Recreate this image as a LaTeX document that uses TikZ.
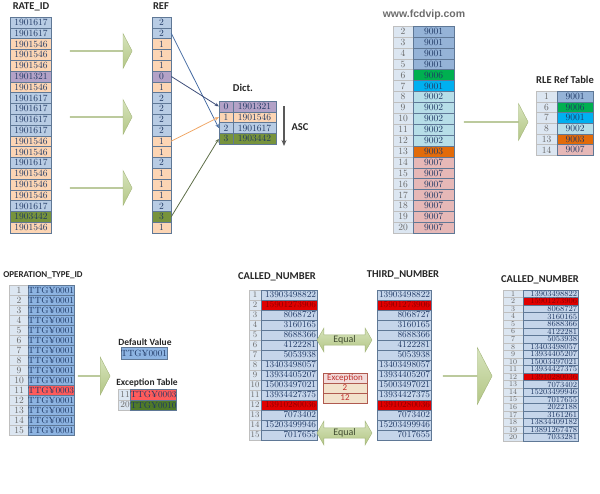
\documentclass[tikz,border=0pt]{standalone}
\usepackage{fontspec}
\newfontfamily\titlefont{Carlito}
\newfontfamily\webfont{Liberation Sans}
\usetikzlibrary{arrows.meta,positioning,shapes.arrows}

\definecolor{cblue}{HTML}{B8CCE4}
\definecolor{corange}{HTML}{FCD5B4}
\definecolor{cpurple}{HTML}{B3A2C7}
\definecolor{cgreen}{HTML}{77933C}
\definecolor{cellline}{HTML}{5F7896}
\definecolor{celltext}{HTML}{1F3864}
\definecolor{idxgray}{HTML}{DCE6F1}
\definecolor{r9001}{HTML}{95B3D7}
\definecolor{r9006}{HTML}{00B050}
\definecolor{r9001b}{HTML}{00B0F0}
\definecolor{r9002}{HTML}{B7DEE8}
\definecolor{r9003}{HTML}{E26B0A}
\definecolor{r9007}{HTML}{E6B8B7}
\definecolor{opblue}{HTML}{8DB4E2}
\definecolor{opred}{HTML}{FF5B5B}
\definecolor{opgreen}{HTML}{4F7A28}
\definecolor{cnum}{HTML}{C5D5EA}
\definecolor{cred}{HTML}{E00000}
\definecolor{exctitle}{HTML}{F2DCDB}
\definecolor{excval}{HTML}{F2E2CC}
\definecolor{excline}{HTML}{B05A50}
\definecolor{exctext}{HTML}{C0302D}
\definecolor{arrowlight}{HTML}{D7E4BD}
\definecolor{arrowdark}{HTML}{B3C685}
\definecolor{arrowline}{HTML}{A3B57A}
\definecolor{lnblue}{HTML}{4A6FA5}
\definecolor{lndark}{HTML}{3E4E7A}
\definecolor{lnorange}{HTML}{F0A868}
\definecolor{lnolive}{HTML}{5E6E48}
\definecolor{titletext}{HTML}{262626}

\tikzset{
  cell/.style={draw=cellline, inner sep=0pt, minimum height=10.8pt, text=celltext,
    font=\fontsize{9.5}{10}\selectfont},
  idx/.style={cell, fill=idxgray, draw=gray!50, text=gray!80!black},
  numcell/.style={cell, fill=cnum, minimum height=10pt, align=right, font=\fontsize{9}{10}\selectfont},
  redcell/.style={numcell, fill=cred, text=red!55!black},
  title/.style={font=\titlefont\bfseries\fontsize{10.5}{11}\selectfont, text=titletext},
  bigarrow/.style={single arrow, draw=arrowline, top color=arrowlight, bottom color=arrowdark,
    inner sep=0pt, single arrow tip angle=125},
  eqarrow/.style={double arrow, draw=arrowline, top color=arrowlight, bottom color=arrowdark,
    inner sep=0pt, double arrow tip angle=120, minimum height=55pt, minimum width=24pt,
    double arrow head extend=6pt, font=\titlefont\fontsize{10}{11}\selectfont, text=lnolive!70!black},
  exc/.style={draw=excline, fill=excval, text=exctext, inner sep=0pt, minimum width=44pt,
    minimum height=10pt, font=\titlefont\fontsize{9}{10}\selectfont}
}

\begin{document}
\begin{tikzpicture}[x=1pt,y=-1pt,>={Stealth[length=4pt,width=3.5pt]},font=\small]
\useasboundingbox (0,0) rectangle (600,493);

\node[title] (ratet) at (31,7) {RATE\_ID};
\node[title] (reft) at (161,6) {REF};
\foreach \v/\r/\c [count=\i] in {1901617/2/cblue,1901617/2/cblue,1901546/1/corange,1901546/1/corange,
    1901546/1/corange,1901321/0/cpurple,1901546/1/corange,1901617/2/cblue,1901617/2/cblue,1901617/2/cblue,
    1901617/2/cblue,1901546/1/corange,1901546/1/corange,1901617/2/cblue,1901546/1/corange,1901546/1/corange,
    1901546/1/corange,1901617/2/cblue,1903442/3/cgreen,1901546/1/corange}{
  \node[cell, fill=\c, minimum width=41pt] (rate\i) at (31,{17+(\i-0.5)*10.8}) {\v};
  \node[cell, fill=\c, minimum width=19pt] (ref\i) at (161.5,{17+(\i-0.5)*10.8}) {\r};
}
\foreach \y [count=\k] in {51,117,188}
  \node[bigarrow, minimum height=62pt, minimum width=35pt, single arrow head extend=8pt] (big\k) at (101,\y) {};

\node[title] (dictt) at (243,88) {Dict.};
\foreach \v/\c [count=\j from 0] in {1901321/cpurple,1901546/corange,1901617/cblue,1903442/cgreen}{
  \node[cell, fill=\c, minimum width=14pt] (di\j) at (226,{101+(\j+0.5)*10.8}) {\j};
  \node[cell, fill=\c, minimum width=43pt] (d\j) at (254.5,{101+(\j+0.5)*10.8}) {\v};
}
\draw[->, lnblue, thick] (ref2.east) -- (di2.west);
\draw[->, lndark, thick] (ref6.east) -- (di0.west);
\draw[->, lnorange, thick] (ref12.east) -- (di1.west);
\draw[->, lnolive, thick] (ref19.east) -- (di3.west);

\coordinate (asctop) at (284,106);
\coordinate (ascbot) at (284,146);
\draw[-{Stealth[length=6pt,width=5pt]}, line width=1.3pt, gray!70!black] (asctop) -- (ascbot);
\node[title] (asc) at (300,127) {ASC};

\node[font=\webfont\bfseries\fontsize{10.5}{12}\selectfont, text=gray!85!black] (web) at (424,15) {www.fcdvip.com};
\foreach \v/\c [count=\k from 2] in {9001/r9001,9001/r9001,9001/r9001,9001/r9001,9006/r9006,9001/r9001b,
    9002/r9002,9002/r9002,9002/r9002,9002/r9002,9002/r9002,9003/r9003,
    9007/r9007,9007/r9007,9007/r9007,9007/r9007,9007/r9007,9007/r9007,9007/r9007}{
  \node[idx, minimum width=20pt, minimum height=10.9pt] (li\k) at (403,{26+(\k-1.5)*10.9}) {\k};
  \node[cell, fill=\c, minimum width=41pt, minimum height=10.9pt] (lv\k) at (433.5,{26+(\k-1.5)*10.9}) {\v};
}
\node[bigarrow, minimum height=64pt, minimum width=37pt, single arrow head extend=9pt] (big4) at (496,122) {};
\node[title] (rlet) at (565,80) {RLE Ref Table};
\foreach \n/\v/\c [count=\m] in {1/9001/r9001,6/9006/r9006,7/9001/r9001b,8/9002/r9002,13/9003/r9003,14/9007/r9007}{
  \node[idx, minimum width=21pt, minimum height=10.7pt] (ti\m) at (546.5,{91+(\m-0.5)*10.7}) {\n};
  \node[cell, fill=\c, minimum width=36pt, minimum height=10.7pt] (tv\m) at (575,{91+(\m-0.5)*10.7}) {\v};
}

\node[title, font=\titlefont\bfseries\fontsize{9}{10}\selectfont] (opt) at (43,275) {OPERATION\_TYPE\_ID};
\foreach \v/\c [count=\i] in {TTG¥0001/opblue,TTG¥0001/opblue,TTG¥0001/opblue,TTG¥0001/opblue,TTG¥0001/opblue,
    TTG¥0001/opblue,TTG¥0001/opblue,TTG¥0001/opblue,TTG¥0001/opblue,TTG¥0001/opblue,TTG¥0003/opred,
    TTG¥0001/opblue,TTG¥0001/opblue,TTG¥0001/opblue,TTG¥0001/opblue}{
  \node[idx, minimum width=20pt, minimum height=10pt] (oi\i) at (19,{285+(\i-0.5)*10}) {\i};
  \node[cell, fill=\c, minimum width=44pt, minimum height=10pt, font=\fontsize{9}{10}\selectfont] (ov\i) at (51,{285+(\i-0.5)*10}) {\v};
}
\node[bigarrow, minimum height=32pt, minimum width=38pt, single arrow head extend=9.5pt] (big5) at (94,376) {};
\node[title, font=\titlefont\bfseries\fontsize{9.5}{10}\selectfont] (deft) at (145,342) {Default Value};
\node[cell, fill=opblue, minimum width=46pt, minimum height=12pt, font=\fontsize{9}{10}\selectfont] (defv) at (144,353) {TTG¥0001};
\node[title, font=\titlefont\bfseries\fontsize{9.5}{10}\selectfont] (exct) at (147,383) {Exception Table};
\node[idx, minimum width=14pt, minimum height=10.5pt, font=\fontsize{9}{10}\selectfont] (ei1) at (125,394.5) {11};
\node[cell, fill=opred, minimum width=43pt, minimum height=10.5pt, font=\fontsize{9}{10}\selectfont] (ev1) at (153.5,394.5) {TTG¥0003};
\node[idx, minimum width=14pt, minimum height=10.5pt, font=\fontsize{9}{10}\selectfont] (ei2) at (125,405) {20};
\node[cell, fill=opgreen, minimum width=43pt, minimum height=10.5pt, font=\fontsize{9}{10}\selectfont] (ev2) at (153.5,405) {TTG¥0010};

\node[title] (calt) at (277,277) {CALLED\_NUMBER};
\node[title] (thirdt) at (403,275) {THIRD\_NUMBER};
\foreach \v/\s [count=\i] in {13903498822/numcell,15901273906/redcell,8068727/numcell,3160165/numcell,
    8688366/numcell,4122281/numcell,5053938/numcell,13403498057/numcell,13934405207/numcell,
    15003497021/numcell,13934427375/numcell,13910280036/redcell,7073402/numcell,15203499946/numcell,
    7017655/numcell}{
  \node[idx, minimum width=12pt, minimum height=10pt, font=\fontsize{8.5}{9}\selectfont] (ci\i) at (255,{290+(\i-0.5)*10}) {\i};
  \node[\s, minimum width=56pt, text width=54pt] (cv\i) at (289,{290+(\i-0.5)*10}) {\v};
  \node[\s, minimum width=54pt, text width=52pt] (tn\i) at (404,{290+(\i-0.5)*10}) {\v};
}
\node[eqarrow] (eq1) at (344.5,340) {Equal};
\node[eqarrow] (eq2) at (344.5,433) {Equal};
\node[exc, fill=exctitle] (exc0) at (345,378) {Exception};
\node[exc] (exc1) at (345,388) {2};
\node[exc] (exc2) at (345,398) {12};
\node[bigarrow, minimum height=49pt, minimum width=57pt, single arrow head extend=15pt] (big6) at (467.5,376) {};

\node[title] (callt) at (540,280) {CALLED\_NUMBER};
\foreach \v/\s [count=\i] in {13903498822/numcell,15901273906/redcell,8068727/numcell,3160165/numcell,
    8688366/numcell,4122281/numcell,5053938/numcell,13403498057/numcell,13934405207/numcell,
    15003497021/numcell,13934427375/numcell,13910280036/redcell,7073402/numcell,15203499946/numcell,
    7017655/numcell,2022188/numcell,3161261/numcell,13834409182/numcell,13891267478/numcell,7033281/numcell}{
  \node[idx, minimum width=20pt, minimum height=7.55pt, font=\fontsize{7.5}{7.5}\selectfont] (fi\i) at (513,{290+(\i-0.5)*7.55}) {\i};
  \node[\s, minimum width=55pt, text width=53pt, minimum height=7.55pt, font=\fontsize{8}{7.5}\selectfont] (fv\i) at (550.5,{290+(\i-0.5)*7.55}) {\v};
}
\end{tikzpicture}
\end{document}
